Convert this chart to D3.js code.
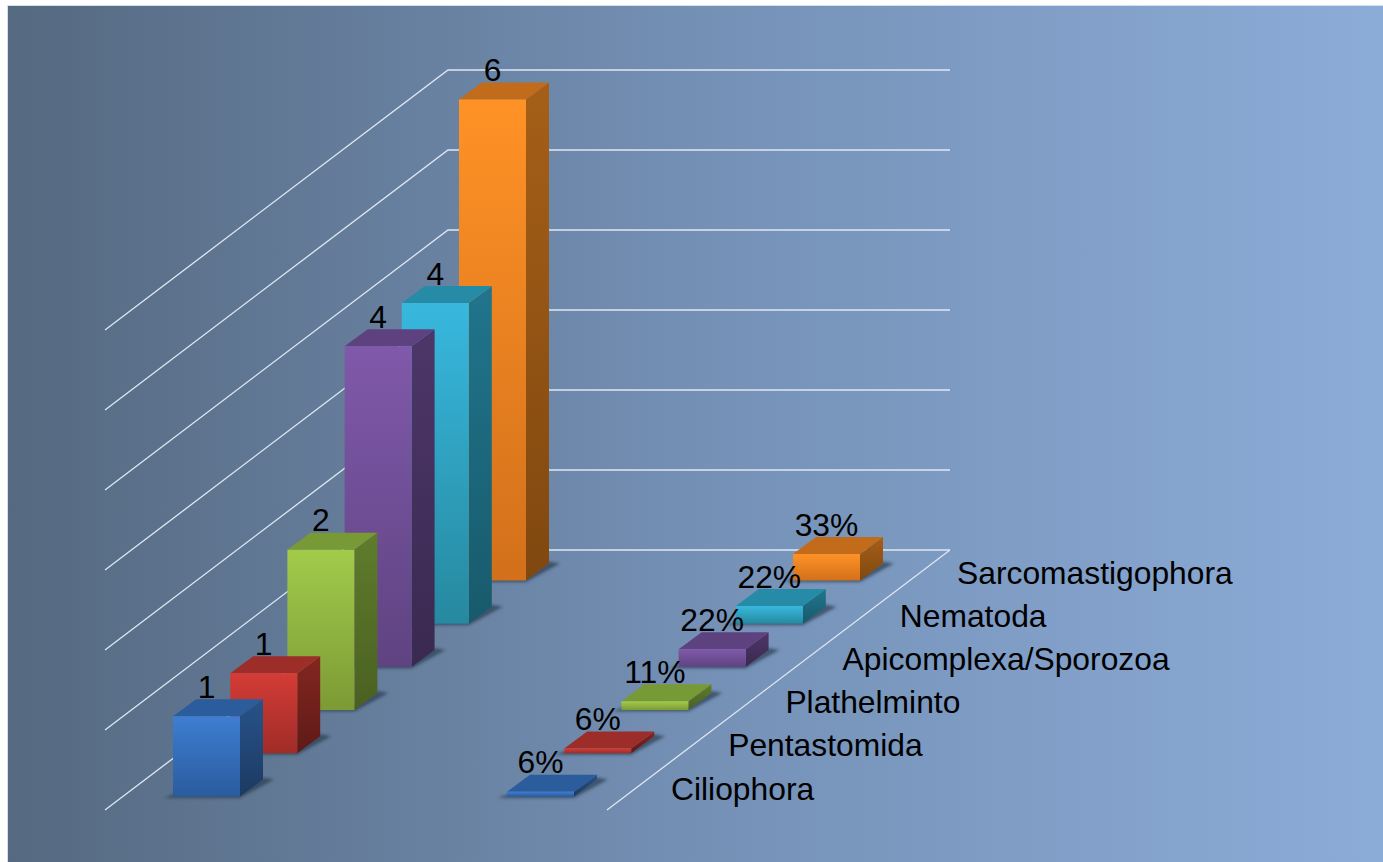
<!DOCTYPE html>
<html>
<head>
<meta charset="utf-8">
<script src="https://cdn.jsdelivr.net/npm/d3@7"></script>
<style>
html,body{margin:0;padding:0;background:#fff;overflow:hidden}
svg{display:block}
text{font-family:"Liberation Sans",Arial,sans-serif;fill:#000}
</style>
</head>
<body>
<svg id="c" width="1383" height="862"></svg>
<script>
const categories = ["Ciliophora","Pentastomida","Plathelminto","Apicomplexa/Sporozoa","Nematoda","Sarcomastigophora"];
const countValues = [1,1,2,4,4,6];
const percentValues = [0.06,0.06,0.11,0.22,0.22,0.33];
const valueTicks = [0,1,2,3,4,5,6];

const frontTop = ["#3e7dd1","#d43c37","#a2cb4b","#8059aa","#38b8de","#ff9226"];
const frontBottom = ["#2a5c9e","#a02c28","#7c9a35","#5f4381","#26899f","#d2701b"];
const topColor = ["#2b5d9d","#9c2d29","#789a36","#5e4280","#268ba6","#c26b1a"];
const sideTop = ["#275389","#84261f","#5f7c2b","#4d3669","#20758c","#a55f18"];
const sideBottom = ["#1c3a62","#5e1a18","#4a6022","#3a2950","#185a6c","#80480f"];

const svg = d3.select("#c");
const defs = svg.append("defs");

const bg = defs.append("linearGradient").attr("id","bg");
bg.append("stop").attr("offset","0%").attr("stop-color","#556980");
bg.append("stop").attr("offset","50%").attr("stop-color","#7490b5");
bg.append("stop").attr("offset","100%").attr("stop-color","#8cacd8");
defs.append("filter").attr("id","soft").attr("x","-30%").attr("y","-30%").attr("width","160%").attr("height","160%")
  .append("feGaussianBlur").attr("stdDeviation",1.8);

categories.forEach((c,i)=>{
  const f = defs.append("linearGradient").attr("id","f"+i).attr("x1",0).attr("y1",0).attr("x2",0).attr("y2",1);
  f.append("stop").attr("offset","0%").attr("stop-color",frontTop[i]);
  f.append("stop").attr("offset","100%").attr("stop-color",frontBottom[i]);
  const s = defs.append("linearGradient").attr("id","s"+i).attr("x1",0).attr("y1",0).attr("x2",0).attr("y2",1);
  s.append("stop").attr("offset","0%").attr("stop-color",sideTop[i]);
  s.append("stop").attr("offset","100%").attr("stop-color",sideBottom[i]);
});

// page edge and plot background
svg.append("rect").attr("width",1383).attr("height",862).attr("fill","#ffffff");
svg.append("rect").attr("x",7).attr("y",5).attr("width",1376).attr("height",857).attr("fill","#d5dfee");
svg.append("rect").attr("x",8).attr("y",6).attr("width",1375).attr("height",856).attr("fill","url(#bg)");

// scales
const depthX = d3.scalePoint().domain(categories).range([0,286]);
const baseY = d3.scalePoint().domain(categories).range([796.5,580.5]);
const seriesX = d3.scalePoint().domain(["count","percent"]).range([173,507]);
const heightScale = d3.scaleLinear().domain([0,6]).range([0,481]);
const gridY = d3.scaleLinear().domain([0,6]).range([550,70]);
const barW = 67, depthDX = 23, depthDY = -17;

// wall and floor grid
const gridG = svg.append("g").attr("fill","none").attr("stroke","#dfe8f3").attr("stroke-width",1.3);
const floorDX = 343, floorDY = 260, wallW = 502;
gridG.selectAll("path").data(valueTicks).join("path")
  .attr("d",v=>{
    const p = d3.path(), y = gridY(v);
    p.moveTo(448-floorDX, y+floorDY); p.lineTo(448,y); p.lineTo(448+wallW,y);
    return p.toString();
  });
gridG.append("path").attr("d",()=>{
  const p = d3.path();
  p.moveTo(448+wallW,gridY(0)); p.lineTo(448+wallW-floorDX,gridY(0)+floorDY);
  return p.toString();
});

function poly(pts){ return d3.line()(pts)+"Z"; }

function drawBars(seriesKey, values){
  const g = svg.append("g").attr("class","series-"+seriesKey);
  const bars = categories.map((c,i)=>({c,i,v:values[i]}));
  // painted from the back row to the front row
  const sel = g.selectAll("g").data(bars.slice().reverse()).join("g");
  sel.each(function(d){
    const x = seriesX(seriesKey)+depthX(d.c), b = baseY(d.c), h = heightScale(d.v), t = b-h;
    const el = d3.select(this);
    el.append("path").attr("filter","url(#soft)").attr("fill","#26354a").attr("fill-opacity",0.65)
      .attr("d",poly([[x-9,b+1.5],[x+barW,b+1.5],[x+barW+depthDX+11,b+depthDY],[x+barW+depthDX,b+depthDY-2],[x+barW,b-4],[x,b-2]]));
    el.append("path").attr("fill","url(#s"+d.i+")")
      .attr("d",poly([[x+barW,t],[x+barW+depthDX,t+depthDY],[x+barW+depthDX,b+depthDY],[x+barW,b]]));
    el.append("path").attr("fill",topColor[d.i])
      .attr("d",poly([[x,t],[x+depthDX,t+depthDY],[x+barW+depthDX,t+depthDY],[x+barW,t]]));
    el.append("rect").attr("x",x).attr("y",t).attr("width",barW).attr("height",h).attr("fill","url(#f"+d.i+")");
  });
  return bars;
}
const countBars = drawBars("count",countValues);
const percentBars = drawBars("percent",percentValues);

// text
const fontSize = 31.8;
const labels = svg.append("g").attr("font-size",fontSize);
function drawLabels(seriesKey, bars, fmt){
  labels.append("g").selectAll("text").data(bars).join("text")
    .attr("text-anchor","middle")
    .attr("x",d=>seriesX(seriesKey)+depthX(d.c)+barW/2)
    .attr("y",d=>baseY(d.c)-heightScale(d.v)-18.5)
    .text(d=>fmt(d.v));
}
drawLabels("count",countBars,d3.format("d"));
drawLabels("percent",percentBars,d3.format(".0%"));
labels.append("g").selectAll("text").data(categories).join("text")
  .attr("x",c=>671+depthX(c))
  .attr("y",c=>baseY(c)+3)
  .text(c=>c);
</script>
</body>
</html>
